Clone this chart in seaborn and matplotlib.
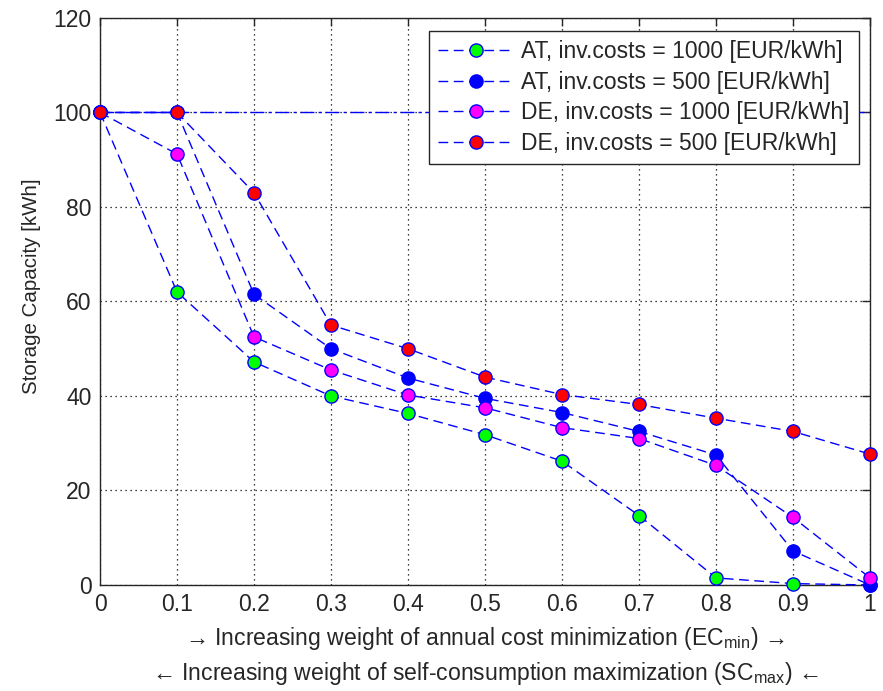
import seaborn as sns
import matplotlib.pyplot as plt
import pandas as pd

weights = [0.0, 0.1, 0.2, 0.3, 0.4, 0.5, 0.6, 0.7, 0.8, 0.9, 1.0]
at_1000 = [100, 62.0, 47.2, 40.0, 36.3, 31.8, 26.2, 14.7, 1.5, 0.3, 0.0]
at_500 = [100, 100, 61.5, 50.0, 43.8, 39.5, 36.5, 32.5, 27.5, 7.2, 0.0]
de_1000 = [100, 91.2, 52.5, 45.5, 40.2, 37.5, 33.3, 31.0, 25.3, 14.3, 1.5]
de_500 = [100, 100, 83.0, 55.0, 50.0, 44.0, 40.3, 38.2, 35.3, 32.5, 27.7]
labels = ['AT, inv.costs = 1000 [EUR/kWh]', 'AT, inv.costs = 500 [EUR/kWh]',
          'DE, inv.costs = 1000 [EUR/kWh]', 'DE, inv.costs = 500 [EUR/kWh]']
face_colors = ['#00ff00', '#0000ff', '#ff00ff', '#ff0000']
reference_level = 100

sns.set_style('white')
plt.rcParams['font.family'] = ['Liberation Sans', 'DejaVu Sans']
plt.rcParams['mathtext.fontset'] = 'custom'
plt.rcParams['mathtext.rm'] = 'Liberation Sans'
plt.rcParams['mathtext.it'] = 'Liberation Sans'

fig = plt.figure(figsize=(8.83, 6.91), dpi=100)
ax = fig.add_axes([0.1133, 0.1534, 0.872, 0.8206])

# horizontal reference line at 100 kWh
ax.axhline(reference_level, color='blue', lw=1, linestyle=(0, (10, 3, 2, 3)), zorder=2)

for vals, lab, fc in zip([at_1000, at_500, de_1000, de_500], labels, face_colors):
    df = pd.DataFrame({'w': weights, 'cap': vals})
    sns.lineplot(data=df, x='w', y='cap', ax=ax, color='blue', lw=1,
                 linestyle=(0, (7, 4)), marker='o', markersize=9.5,
                 markerfacecolor=fc, markeredgecolor='blue', markeredgewidth=1,
                 label=lab, zorder=3, clip_on=False)

ax.set_xlim(0, 1)
ax.set_ylim(0, 120)
ax.set_xticks(weights)
ax.set_xticklabels(['0'] + ['%.1f' % w for w in weights[1:-1]] + ['1'])
ax.set_yticks(range(0, 121, 20))
ax.grid(True, linestyle=(0, (1, 3)), color='black', linewidth=0.9)
ax.tick_params(direction='in', top=True, right=True, length=6, width=1,
               labelsize=16.5, colors='#262626', pad=6)
for s in ax.spines.values():
    s.set_color('#262626')
    s.set_linewidth(1)

ax.set_ylabel('Storage Capacity [kWh]', fontsize=14.8, color='#262626')
ax.yaxis.set_label_coords(-0.077, 0.527)
ax.set_xlabel('\u2192 Increasing weight of annual cost minimization (EC$_{\\mathrm{min}}$) \u2192\n'
              '\u2190 Increasing weight of self-consumption maximization (SC$_{\\mathrm{max}}$) \u2190',
              fontsize=16.6, color='#262626', linespacing=1.42, labelpad=6)

leg = ax.legend(loc='upper right', fontsize=16.5, frameon=True, fancybox=False,
                edgecolor='#262626', handlelength=3.3, handletextpad=0.35,
                borderpad=0.4, labelspacing=0.33, borderaxespad=0,
                bbox_to_anchor=(0.9857, 0.977))
leg.get_frame().set_linewidth(1)
leg.get_frame().set_alpha(1)

fig.savefig('out.png', dpi=100)
